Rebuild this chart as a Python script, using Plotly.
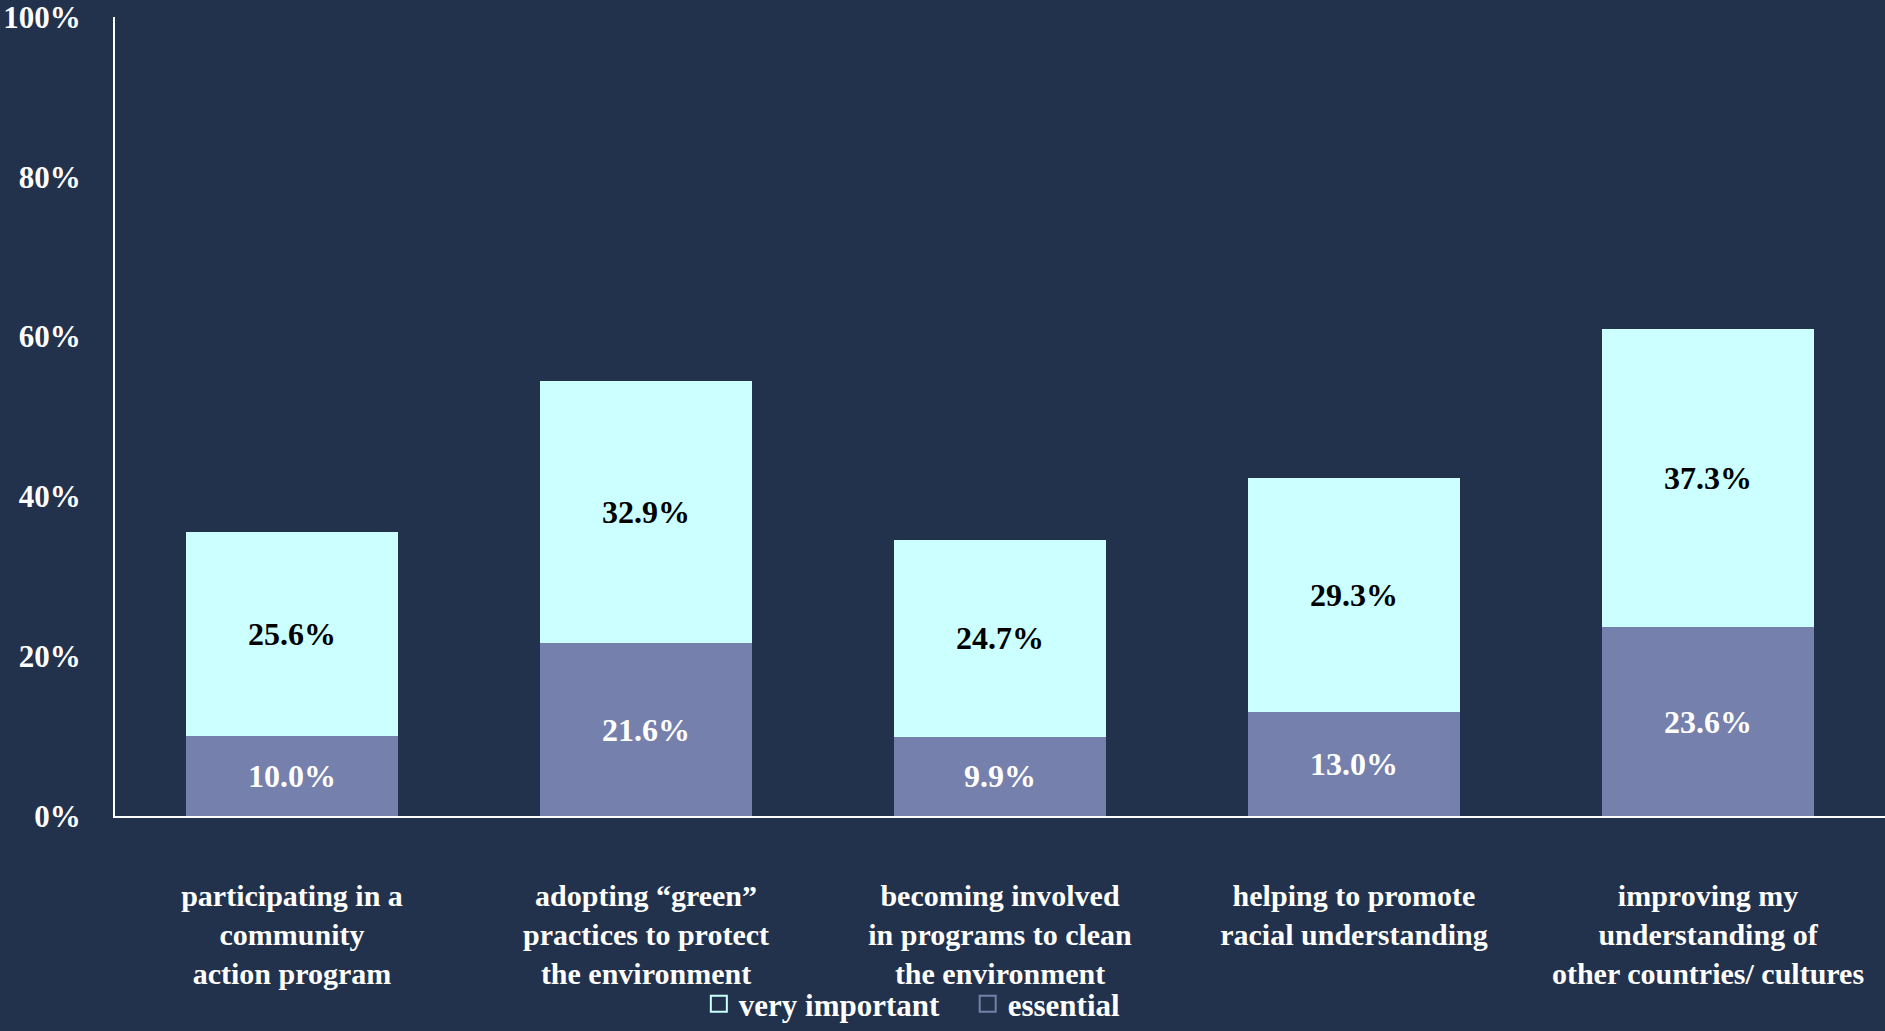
import plotly.graph_objects as go

categories = [
    "participating in a<br>community<br>action program",
    "adopting “green”<br>practices to protect<br>the environment",
    "becoming involved<br>in programs to clean<br>the environment",
    "helping to promote<br>racial understanding",
    "improving my<br>understanding of<br>other countries/ cultures",
]
essential = [10.0, 21.6, 9.9, 13.0, 23.6]
very_important = [25.6, 32.9, 24.7, 29.3, 37.3]
y_ticks = [0, 20, 40, 60, 80, 100]
y_tick_labels = ["0%", "20%", "40%", "60%", "80%", "100%"]

BG = "#22324D"
CYAN = "#CCFFFF"
PURPLE = "#7580AC"
FONT = "Liberation Serif"

fig = go.Figure()
fig.add_trace(go.Bar(
    x=categories, y=essential, name="essential", marker_color=PURPLE,
    texttemplate="%{y:.1f}%", textposition="inside", insidetextanchor="middle",
    textfont=dict(color="white", size=32, family=FONT, weight="bold"), showlegend=False,
))
fig.add_trace(go.Bar(
    x=categories, y=very_important, name="very important", marker_color=CYAN,
    texttemplate="%{y:.1f}%", textposition="inside", insidetextanchor="middle",
    textfont=dict(color="black", size=32, family=FONT, weight="bold"), showlegend=False,
))
# legend-only entries with hollow square swatches
fig.add_trace(go.Scatter(x=[None], y=[None], mode="markers", name="very important\u00a0\u00a0\u00a0",
                         marker=dict(symbol="square-open", size=24, color=CYAN, line=dict(width=2))))
fig.add_trace(go.Scatter(x=[None], y=[None], mode="markers", name="essential",
                         marker=dict(symbol="square-open", size=24, color=PURPLE, line=dict(width=2))))

fig.update_layout(
    width=1885, height=1031,
    barmode="stack", bargap=0.4,
    paper_bgcolor=BG, plot_bgcolor=BG,
    margin=dict(l=115, r=0, t=17, b=215, autoexpand=False),
    font=dict(family=FONT, color="white", size=26),
    showlegend=True,
    legend=dict(orientation="h", xref="container", x=0.484, xanchor="center",
                yref="container", y=0.0, yanchor="bottom", traceorder="normal",
                font=dict(size=31, family=FONT, color="white", weight="bold"),
                bgcolor="rgba(0,0,0,0)", itemwidth=30, tracegroupgap=0),
    uniformtext=dict(mode="show", minsize=10),
)
fig.update_xaxes(
    showline=True, linecolor="white", linewidth=2, showgrid=False, zeroline=False,
    ticks="", tickfont=dict(size=30, family=FONT, color="white", weight="bold"),
    ticklabelstandoff=52, range=[-0.5, 4.5], automargin=False,
)
fig.update_yaxes(
    range=[0, 100], tickvals=y_ticks, ticktext=y_tick_labels,
    showline=True, linecolor="white", linewidth=2, showgrid=False, zeroline=False,
    ticks="", tickfont=dict(size=31, family=FONT, color="white", weight="bold"),
    ticklabelstandoff=26, automargin=False, ticklabeloverflow="allow",
)
fig.update_traces(selector=dict(type="bar"), marker_line_width=0)

fig.write_html(
    "out.html",
    config={"displayModeBar": False},
    post_script="document.body.style.margin='0';document.body.style.background='#22324D';",
)
